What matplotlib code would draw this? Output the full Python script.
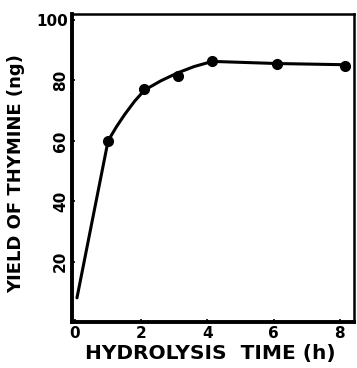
import matplotlib
matplotlib.use("Agg")
import matplotlib.pyplot as plt

# Measured data points
time_h = [1.0, 2.1, 3.1, 4.15, 6.1, 8.15]
thymine_ng = [60, 77, 81.5, 86.5, 85.3, 84.8]

# Hand-drawn fitted curve
curve_x = [0.06, 1.0, 1.25, 1.5, 1.8, 2.1, 2.6, 3.1, 3.6, 4.15, 6.1, 8.15]
curve_y = [8, 60, 64.6, 68.7, 73.1, 76.8, 79.9, 82.5, 84.6, 86.3, 85.6, 85.2]

xticks = [0, 2, 4, 6, 8]
yticks = [20, 40, 60, 80, 100]

fig = plt.figure(figsize=(3.57, 3.68), dpi=100)
ax = fig.add_axes([72/357, 46/368, (354-72)/357, (322-14)/368])

ax.plot(curve_x, curve_y, color="black", lw=2.2, solid_capstyle="round", solid_joinstyle="round")
ax.plot(time_h, thymine_ng, "o", color="black", ms=7)

ax.set_xlim(-0.09, 8.43)
ax.set_ylim(0, 102)

for s in ["left", "bottom"]:
    ax.spines[s].set_linewidth(2.8)
for s in ["top", "right"]:
    ax.spines[s].set_linewidth(1.8)

ax.set_xticks(xticks)
ax.set_xticklabels([str(v) for v in xticks], fontsize=11, fontweight="bold")
ax.set_yticks(yticks)
ax.set_yticklabels([str(v) for v in yticks], fontsize=11, fontweight="bold")
for lab in ax.get_yticklabels():
    if lab.get_text() != "100":
        lab.set_rotation(90)
        lab.set_va("center")
ax.tick_params(direction="in", length=2, width=1.2, pad=3)

fig.text(0.045, (368-174)/368, "YIELD OF THYMINE (ng)", rotation=90, fontsize=13,
         fontweight="bold", ha="center", va="center")
fig.text((80+340)/2/357, (368-354)/368, "HYDROLYSIS  TIME (h)", fontsize=14.5,
         fontweight="bold", ha="center", va="center")

fig.savefig("out.png", dpi=100)
